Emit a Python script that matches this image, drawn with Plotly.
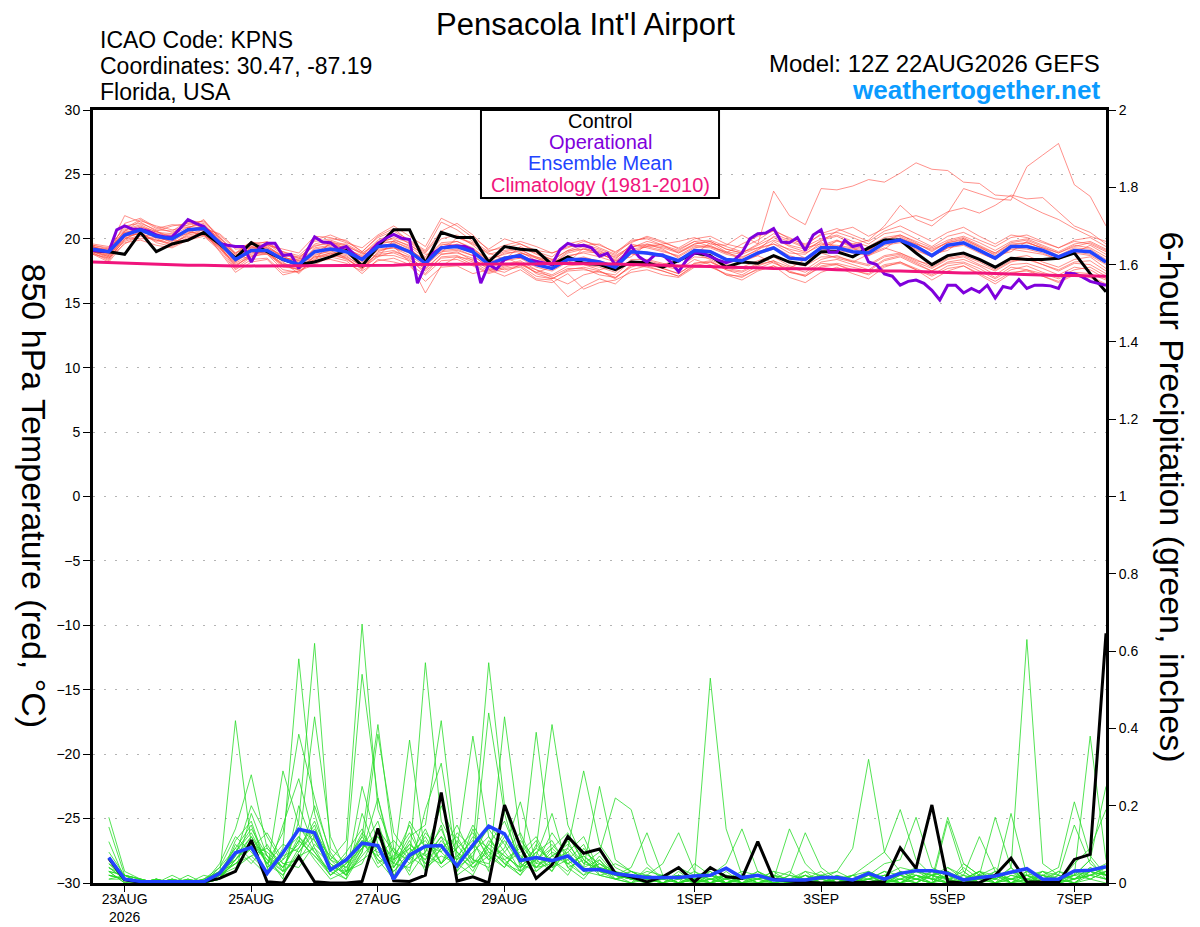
import plotly.graph_objects as go
import pandas as pd

# 12Z 22AUG2026 GEFS run, 6-hourly valid times (operational is 3-hourly)
times = pd.date_range("2026-08-22 12:00", periods=65, freq="6h")
oper_times = pd.date_range("2026-08-22 12:00", periods=129, freq="3h")

tick_dates = ["2026-08-23", "2026-08-25", "2026-08-27", "2026-08-29",
              "2026-09-01", "2026-09-03", "2026-09-05", "2026-09-07"]
tick_labels = ["23AUG<br>2026", "25AUG", "27AUG", "29AUG", "1SEP", "3SEP", "5SEP", "7SEP"]

# 850 hPa temperature, deg C
control_temp = [19.1, 19.0, 18.8, 20.5, 19.0, 19.6, 19.9, 20.5, 19.6, 18.5, 19.7, 19.0, 18.4,
                18.0, 18.2, 18.6, 19.1, 17.9, 19.4, 20.7, 20.7, 18.1, 20.5, 20.1, 20.1, 18.2,
                19.4, 19.2, 19.1, 18.0, 18.6, 18.1, 18.0, 17.6, 18.2, 18.15, 17.8, 18.3, 18.9,
                18.7, 17.8, 18.2, 18.1, 18.7, 18.2, 18.0, 19.0, 19.0, 18.6, 19.3, 19.9, 19.9,
                18.9, 18.0, 18.7, 18.9, 18.4, 17.8, 18.5, 18.4, 18.4, 18.5, 18.9, 17.3, 15.9]
mean_temp = [19.2, 19.0, 20.3, 20.7, 20.2, 20.0, 20.7, 20.8, 19.7, 18.4, 19.1, 19.1, 18.4,
             18.0, 19.0, 19.2, 19.0, 18.4, 19.4, 19.5, 19.0, 18.1, 19.3, 19.4, 19.0, 18.0,
             18.5, 18.7, 18.0, 17.7, 18.4, 18.4, 18.2, 17.8, 19.0, 18.9, 18.7, 18.3, 19.1,
             19.0, 18.4, 18.3, 18.9, 19.3, 18.5, 18.4, 19.3, 19.3, 19.0, 18.9, 19.7, 19.9,
             19.4, 18.7, 19.5, 19.7, 19.1, 18.5, 19.4, 19.4, 19.1, 18.6, 19.1, 19.0, 18.2]
clim_temp = [18.2, 18.15, 18.1, 18.05, 18.0, 18.0, 17.95, 17.95, 17.9, 17.9, 17.9, 17.9, 17.9,
             17.9, 17.9, 17.9, 17.9, 17.95, 17.95, 17.95, 18.0, 18.0, 18.0, 18.0, 18.05, 18.05,
             18.05, 18.05, 18.05, 18.1, 18.1, 18.1, 18.1, 18.05, 18.0, 18.0, 17.95, 17.9, 17.9,
             17.85, 17.8, 17.8, 17.75, 17.7, 17.7, 17.65, 17.65, 17.6, 17.55, 17.55, 17.5, 17.5,
             17.45, 17.45, 17.4, 17.35, 17.35, 17.3, 17.25, 17.25, 17.2, 17.15, 17.15, 17.1, 17.1]
oper_temp = [19.1, 19.05, 19.0, 20.7, 21.0, 20.75, 20.75, 20.6, 20.3, 20.15, 20.15, 20.8, 21.5,
             21.2, 20.95, 20.3, 19.65, 19.5, 19.4, 19.4, 18.2, 19.3, 19.65, 19.65, 18.7, 18.8,
             17.7, 19.0, 20.15, 19.75, 19.7, 19.2, 19.4, 18.8, 18.4, 19.0, 19.65, 20.05, 20.35,
             20.05, 19.95, 16.55, 18.0, 18.9, 19.3, 19.4, 19.45, 19.4, 19.15, 16.55, 18.0, 17.65,
             18.4, 18.6, 18.65, 18.4, 18.25, 18.1, 18.0, 19.15, 19.65, 19.45, 19.5, 19.3, 18.65,
             18.87, 17.97, 18.6, 19.44, 18.6, 18.2, 18.75, 18.75, 18.2, 17.45, 18.35, 18.9, 18.9,
             18.6, 18.35, 18.15, 18.35, 18.9, 20.0, 20.4, 20.45, 20.8, 19.75, 19.7, 20.1, 19.1,
             20.3, 20.7, 18.95, 18.95, 19.9, 19.4, 19.55, 18.2, 18.0, 17.27, 17.1, 16.4, 16.7,
             16.8, 16.55, 16.0, 15.25, 16.4, 16.4, 15.8, 16.15, 15.85, 16.4, 15.4, 16.3, 16.15,
             16.85, 16.15, 16.4, 16.4, 16.35, 16.15, 17.35, 17.3, 17.05, 16.7, 16.55, 16.4]

t_m01 = [19.4, 18.9, 21.2, 21.6, 20.9, 20.5, 21.1, 21.4, 20.2, 18.9, 19.5, 19.8, 18.9,
         18.3, 19.6, 19.9, 19.5, 18.8, 19.9, 20.4, 19.6, 18.6, 20.0, 20.3, 19.5, 18.5,
         19.0, 19.2, 18.5, 18.0, 18.9, 19.2, 18.8, 18.4, 19.6, 19.3, 19.0, 18.7, 19.4,
         19.3, 18.8, 18.5, 19.2, 19.6, 18.9, 18.8, 19.7, 19.4, 19.2, 19.0, 19.6, 19.8,
         19.1, 18.6, 19.3, 19.5, 18.9, 18.4, 19.2, 19.0, 18.8, 18.4, 18.9, 18.7, 18.0]
t_m02 = [19.0, 18.6, 19.8, 20.2, 19.9, 19.6, 20.3, 20.5, 19.4, 17.9, 18.7, 18.8, 17.6,
         17.4, 18.4, 18.8, 18.6, 17.9, 18.8, 18.9, 18.4, 17.3, 18.6, 18.7, 18.2, 17.5,
         17.9, 18.2, 17.3, 16.9, 17.5, 17.6, 17.4, 17.2, 18.3, 18.1, 17.9, 17.6, 18.4,
         18.0, 17.2, 16.8, 17.5, 17.9, 17.0, 16.6, 17.4, 17.8, 17.3, 16.9, 17.8, 18.2,
         17.6, 16.8, 17.5, 17.9, 17.2, 16.5, 17.3, 17.6, 17.1, 16.6, 17.2, 17.0, 16.4]
t_m03 = [19.5, 19.3, 21.8, 21.3, 20.6, 21.0, 21.2, 20.9, 20.3, 19.2, 19.3, 19.5, 19.2,
         18.9, 20.2, 20.1, 19.7, 19.3, 20.3, 21.0, 20.2, 19.4, 21.6, 21.0, 20.1, 19.2,
         20.0, 19.6, 19.1, 18.9, 19.4, 19.5, 19.6, 18.9, 19.9, 20.0, 19.5, 19.1, 19.8,
         19.4, 18.9, 19.6, 20.2, 20.6, 20.1, 19.5, 20.4, 20.8, 20.3, 19.8, 20.6, 21.0,
         20.4, 19.8, 20.5, 20.9, 20.2, 19.6, 20.3, 20.1, 19.7, 19.3, 19.8, 19.6, 19.0]
t_m04 = [18.9, 18.3, 20.0, 20.5, 19.7, 19.4, 20.0, 20.6, 19.0, 17.4, 18.2, 18.4, 17.2,
         17.5, 18.0, 18.6, 18.3, 17.3, 18.4, 18.2, 17.9, 16.7, 17.8, 17.9, 17.3, 17.6,
         17.1, 17.6, 16.8, 16.6, 17.3, 16.1, 16.6, 16.8, 17.4, 17.6, 17.2, 17.0, 17.8,
         17.9, 17.2, 17.1, 17.6, 17.9, 17.5, 17.1, 17.9, 18.1, 17.8, 17.5, 18.3, 18.6,
         18.0, 17.5, 18.1, 18.2, 17.7, 17.0, 17.8, 17.6, 17.3, 16.9, 17.4, 17.3, 16.8]
t_m05 = [19.3, 19.2, 20.6, 21.0, 20.4, 20.3, 20.9, 21.2, 19.9, 18.6, 19.2, 19.4, 18.7,
         18.0, 19.3, 19.5, 19.3, 18.6, 19.6, 19.8, 19.2, 18.3, 19.6, 19.5, 19.2, 18.2,
         18.3, 18.9, 18.6, 18.1, 19.0, 19.4, 19.1, 18.5, 19.3, 19.8, 19.5, 18.9, 19.6,
         19.8, 19.2, 18.9, 19.5, 20.1, 19.4, 19.0, 19.9, 20.2, 19.6, 19.1, 19.9, 20.3,
         19.7, 19.0, 19.8, 20.1, 19.5, 18.9, 19.7, 19.9, 19.4, 18.9, 19.5, 19.3, 18.6]
t_m06 = [19.1, 18.8, 20.1, 20.0, 20.1, 19.8, 20.5, 20.4, 19.3, 18.2, 19.0, 18.9, 18.1,
         17.8, 18.8, 19.0, 18.8, 18.1, 19.1, 19.3, 18.7, 17.9, 19.0, 19.1, 18.7, 17.8,
         18.6, 18.0, 17.4, 17.8, 18.5, 18.0, 17.6, 17.9, 18.9, 18.3, 18.0, 18.4, 18.9,
         18.4, 17.8, 18.2, 18.7, 18.1, 17.7, 18.4, 18.9, 18.5, 18.2, 18.8, 19.3, 18.9,
         18.3, 18.0, 18.6, 18.9, 18.3, 17.8, 18.5, 18.7, 18.2, 17.8, 18.4, 18.6, 17.7]
t_m07 = [18.8, 18.5, 19.6, 20.3, 20.6, 19.9, 19.8, 20.9, 20.1, 18.8, 18.4, 19.6, 19.0,
         18.5, 18.3, 19.8, 19.4, 18.9, 18.6, 19.9, 19.5, 18.8, 18.9, 20.1, 19.6, 18.9,
         18.4, 19.4, 18.8, 18.4, 18.1, 19.3, 18.9, 18.3, 18.6, 19.6, 19.2, 18.5, 18.8,
         19.7, 19.0, 18.4, 18.7, 19.8, 19.1, 18.5, 18.9, 19.9, 19.3, 18.7, 19.2, 20.1,
         19.5, 18.8, 19.1, 20.0, 19.4, 18.7, 19.0, 19.8, 19.2, 18.6, 18.9, 19.5, 18.8]
t_m08 = [19.2, 18.7, 20.4, 20.9, 20.0, 19.6, 20.4, 21.0, 19.5, 17.8, 18.9, 19.0, 17.9,
         17.6, 18.7, 19.1, 18.5, 17.6, 19.0, 19.4, 18.2, 15.8, 17.9, 18.6, 18.4, 17.7,
         17.4, 18.0, 17.6, 17.0, 16.5, 17.2, 17.5, 17.0, 17.8, 18.2, 17.7, 17.3, 18.1,
         18.3, 17.6, 17.4, 18.0, 18.3, 17.4, 17.2, 18.1, 18.0, 17.5, 17.3, 18.0, 18.2,
         17.7, 17.2, 17.9, 18.1, 17.5, 16.9, 17.6, 17.9, 17.4, 17.0, 17.6, 17.8, 17.1]
t_m09 = [19.6, 19.4, 20.8, 21.5, 20.8, 21.1, 21.0, 20.8, 20.4, 19.3, 19.6, 19.2, 18.5,
         18.4, 19.9, 20.3, 19.8, 19.0, 20.1, 20.6, 19.9, 19.1, 21.3, 20.7, 19.8, 19.0,
         19.5, 19.8, 19.4, 18.9, 19.3, 19.8, 19.5, 19.0, 19.7, 20.2, 19.8, 19.2, 19.8,
         19.9, 19.4, 19.0, 19.3, 19.6, 19.2, 18.9, 19.5, 19.9, 19.4, 19.2, 19.8, 20.0,
         19.6, 19.1, 19.7, 19.9, 19.3, 18.8, 19.5, 19.7, 19.3, 18.9, 19.4, 19.7, 19.1]
t_m10 = [18.9, 18.4, 20.2, 20.4, 19.8, 20.1, 20.6, 20.3, 19.4, 18.0, 18.6, 19.2, 18.2,
         17.3, 18.5, 18.9, 18.4, 17.7, 18.6, 19.0, 18.6, 17.6, 18.8, 19.0, 18.3, 17.9,
         17.6, 17.8, 16.9, 16.8, 15.5, 16.3, 16.9, 16.5, 17.6, 17.9, 17.5, 17.1, 17.9,
         18.2, 17.7, 17.5, 18.1, 18.6, 17.9, 17.6, 18.4, 18.7, 18.2, 17.9, 18.6, 18.8,
         18.2, 17.7, 18.4, 18.6, 18.0, 17.5, 18.2, 18.5, 18.0, 17.6, 18.2, 18.3, 17.5]
t_m11 = [19.3, 19.0, 20.5, 20.8, 20.3, 20.2, 20.6, 21.1, 19.8, 18.5, 19.3, 19.3, 18.6,
         18.2, 19.2, 19.4, 19.1, 18.5, 19.5, 19.6, 19.1, 18.4, 19.4, 19.3, 18.9, 18.1,
         18.4, 18.9, 18.5, 18.1, 18.7, 18.9, 18.6, 18.2, 19.0, 19.4, 19.6, 19.8, 20.1,
         19.6, 19.5, 20.3, 19.6, 23.7, 21.8, 21.1, 23.9, 23.8, 24.1, 24.6, 24.4, 25.1,
         25.9, 25.4, 25.3, 24.4, 24.3, 23.4, 23.3, 22.6, 22.0, 21.5, 20.8, 20.2, 19.8]
t_m12 = [19.0, 18.7, 20.0, 20.6, 20.1, 19.9, 20.8, 20.7, 19.6, 18.3, 19.0, 18.8, 18.0,
         17.9, 18.9, 19.3, 19.1, 18.2, 19.2, 19.3, 18.9, 18.0, 19.1, 19.2, 18.7, 17.8,
         18.3, 18.5, 17.8, 17.5, 18.2, 18.5, 18.3, 17.9, 18.8, 18.9, 18.6, 18.2, 19.0,
         18.9, 18.4, 18.3, 18.8, 19.2, 18.6, 18.5, 19.4, 19.8, 19.6, 19.9, 21.0, 22.6,
         21.5, 21.0, 22.0, 23.9, 23.5, 23.1, 23.0, 25.6, 26.5, 27.4, 24.2, 23.3, 21.0]
t_m13 = [19.4, 19.1, 20.7, 21.1, 20.5, 20.4, 21.3, 21.0, 19.9, 18.7, 19.4, 19.6, 18.8,
         18.6, 19.4, 19.8, 19.2, 18.7, 19.8, 20.0, 19.4, 18.5, 19.7, 19.8, 19.2, 18.4,
         18.8, 19.1, 18.6, 18.3, 19.1, 19.2, 19.0, 18.6, 19.4, 19.5, 19.3, 18.9, 19.5,
         19.4, 19.0, 18.8, 19.3, 19.9, 19.5, 19.2, 19.8, 20.6, 20.9, 20.2, 20.8, 21.5,
         21.8, 21.4, 22.1, 22.4, 22.0, 22.6, 23.4, 23.1, 23.2, 22.1, 21.0, 20.5, 19.6]
t_m14 = [19.2, 18.9, 20.3, 20.9, 20.6, 20.1, 20.4, 20.7, 19.6, 18.2, 19.4, 19.1, 18.3,
         18.1, 19.0, 19.1, 19.2, 18.3, 19.3, 19.7, 19.0, 18.2, 19.2, 19.6, 19.1, 18.2,
         18.6, 18.5, 18.1, 17.6, 18.3, 18.6, 18.2, 17.8, 19.1, 18.8, 18.6, 18.2, 19.2,
         19.1, 18.5, 18.2, 19.0, 19.4, 18.7, 18.3, 19.2, 19.1, 18.9, 18.7, 19.5, 19.7,
         19.2, 18.6, 19.3, 19.6, 19.0, 18.4, 19.3, 19.2, 18.9, 18.4, 19.0, 18.8, 18.1]
t_m15 = [18.8, 18.2, 19.7, 19.9, 19.5, 19.3, 19.9, 20.2, 19.1, 17.6, 18.4, 18.5, 17.4,
         17.5, 18.3, 18.4, 18.1, 17.5, 18.3, 18.5, 18.0, 17.2, 18.3, 18.4, 17.9, 17.3,
         17.7, 17.9, 17.1, 16.9, 17.6, 17.8, 17.5, 16.9, 18.0, 17.8, 17.5, 17.1, 18.0,
         17.8, 17.3, 17.0, 17.7, 18.2, 17.4, 17.1, 17.8, 18.0, 17.6, 17.2, 17.9, 18.1,
         17.6, 17.1, 17.7, 17.9, 17.3, 16.7, 17.4, 17.5, 17.1, 16.7, 17.3, 17.1, 16.5]
t_m16 = [19.5, 19.2, 21.0, 21.2, 20.7, 20.6, 21.4, 21.3, 20.1, 18.8, 19.7, 19.7, 19.0,
         18.7, 19.8, 20.0, 19.9, 19.0, 20.2, 20.8, 19.8, 19.0, 20.6, 21.2, 20.3, 19.1,
         19.3, 19.6, 19.0, 18.6, 19.6, 19.9, 19.3, 18.8, 19.8, 20.1, 19.7, 19.3, 20.0,
         20.2, 19.6, 19.3, 19.9, 20.7, 20.0, 19.6, 20.3, 20.5, 20.1, 19.6, 20.4, 20.6,
         20.0, 19.4, 20.2, 20.5, 19.9, 19.4, 20.1, 20.3, 19.8, 19.3, 19.9, 20.1, 19.4]
t_m17 = [19.0, 18.5, 19.9, 20.3, 20.2, 19.7, 20.2, 20.3, 19.2, 18.1, 18.8, 19.0, 18.0,
         17.6, 18.6, 18.9, 18.7, 17.8, 18.9, 19.1, 18.5, 17.7, 18.8, 18.9, 18.5, 17.6,
         18.0, 18.3, 17.6, 17.2, 17.9, 18.0, 17.8, 17.4, 18.4, 18.4, 18.1, 17.8, 18.6,
         18.5, 18.0, 17.8, 18.3, 18.7, 18.1, 17.9, 18.6, 18.6, 18.3, 18.0, 18.7, 18.9,
         18.4, 17.8, 18.5, 18.7, 18.2, 17.6, 18.3, 18.4, 18.0, 17.5, 18.1, 18.0, 17.3]
t_m18 = [19.3, 18.8, 20.5, 20.6, 20.3, 20.0, 20.8, 21.5, 20.0, 18.4, 19.1, 19.5, 18.5,
         18.3, 18.9, 19.6, 19.3, 18.4, 19.7, 19.8, 19.3, 18.1, 19.5, 19.8, 19.3, 18.3,
         18.9, 19.0, 18.3, 17.9, 18.6, 19.0, 18.9, 18.3, 19.2, 19.4, 19.1, 18.6, 19.3,
         19.5, 18.9, 18.6, 19.1, 20.2, 19.8, 19.3, 19.6, 19.5, 19.3, 19.1, 19.9, 20.2,
         19.6, 19.2, 19.7, 20.0, 19.4, 18.9, 19.6, 19.7, 19.3, 18.7, 19.3, 19.2, 18.4]
t_m19 = [19.1, 18.6, 20.2, 20.4, 19.9, 19.5, 20.1, 20.3, 19.3, 17.7, 18.6, 18.9, 17.8,
         17.7, 18.6, 18.7, 18.5, 17.7, 18.7, 18.7, 18.3, 17.5, 18.5, 18.6, 18.0, 17.4,
         17.8, 18.1, 17.4, 17.1, 17.7, 17.7, 17.2, 17.0, 17.9, 18.0, 17.7, 17.3, 18.1,
         18.2, 17.6, 17.2, 17.9, 18.3, 17.8, 17.4, 18.2, 18.4, 18.0, 17.6, 18.4, 18.7,
         18.1, 17.5, 18.2, 18.4, 17.9, 17.2, 18.0, 18.1, 17.7, 17.2, 17.8, 17.6, 16.9]
t_m20 = [19.4, 19.0, 20.6, 21.4, 21.0, 20.7, 20.9, 20.6, 19.8, 18.9, 19.8, 19.3, 18.7,
         18.5, 19.5, 19.6, 19.6, 18.9, 19.6, 20.1, 19.7, 18.9, 20.4, 20.1, 19.7, 18.8,
         19.1, 19.3, 18.9, 18.4, 19.1, 19.6, 19.2, 18.7, 19.4, 19.6, 19.4, 19.0, 19.6,
         19.8, 19.2, 18.9, 19.6, 20.4, 19.9, 19.4, 20.0, 20.3, 19.8, 19.4, 20.1, 20.3,
         19.8, 19.3, 19.9, 20.2, 19.7, 19.1, 19.8, 20.0, 19.5, 19.0, 19.6, 19.8, 19.2]

# 6-hour precipitation, inches (starts at the first 6-h step)
control_precip = [0.064, 0.008, 0.002, 0, 0, 0, 0.003, 0.012, 0.03, 0.111, 0.003, 0, 0.068, 0.003, 0, 0,
                  0.004, 0.141, 0.006, 0.004, 0.02, 0.234, 0.005, 0.016, 0, 0.202, 0.094, 0.012, 0.047, 0.12, 0.077, 0.088,
                  0.025, 0.016, 0.003, 0.016, 0.04, 0.003, 0.04, 0.016, 0.012, 0.107, 0.01, 0.005, 0.002, 0, 0, 0.002,
                  0.001, 0.003, 0.091, 0.038, 0.202, 0.003, 0, 0.001, 0.02, 0.064, 0.003, 0.002, 0.002, 0.061, 0.074, 0.646]
mean_precip = [0.066, 0.01, 0.004, 0.003, 0.003, 0.003, 0.003, 0.025, 0.078, 0.092, 0.025, 0.078, 0.139, 0.13, 0.034, 0.06,
               0.103, 0.097, 0.01, 0.072, 0.095, 0.097, 0.044, 0.098, 0.147, 0.127, 0.058, 0.066, 0.058, 0.07, 0.034, 0.035,
               0.024, 0.02, 0.014, 0.014, 0.014, 0.018, 0.02, 0.038, 0.014, 0.02, 0.008, 0.008, 0.008, 0.014, 0.014, 0.008,
               0.025, 0.01, 0.025, 0.032, 0.032, 0.025, 0.008, 0.014, 0.018, 0.028, 0.037, 0.01, 0.01, 0.031, 0.033, 0.042]

p_m01 = [0.17, 0.03, 0.01, 0, 0, 0, 0, 0.01, 0.06, 0.12, 0.05, 0.02, 0.09, 0.15, 0.03, 0.01,
         0.08, 0.22, 0.04, 0.10, 0.06, 0.15, 0.02, 0.05, 0.44, 0.18, 0.04, 0.08, 0.03, 0.12, 0.06, 0.02,
         0.03, 0.01, 0, 0.02, 0, 0.01, 0, 0.03, 0, 0, 0.01, 0, 0, 0.02, 0.01, 0,
         0, 0.01, 0.03, 0.02, 0, 0.16, 0.03, 0, 0.01, 0, 0.02, 0, 0, 0.01, 0.04, 0.02]
p_m02 = [0.145, 0.02, 0, 0.01, 0, 0, 0, 0.02, 0.03, 0.18, 0.07, 0.01, 0.20, 0.09, 0.02, 0.05,
         0.12, 0.06, 0.01, 0.16, 0.09, 0.04, 0.07, 0.11, 0.03, 0.43, 0.12, 0.03, 0.06, 0.02, 0.09, 0.04,
         0.01, 0.02, 0.01, 0, 0.03, 0, 0.01, 0, 0.02, 0, 0, 0.01, 0.03, 0, 0, 0.01,
         0.02, 0, 0, 0.01, 0, 0.04, 0.02, 0.12, 0.03, 0, 0, 0.01, 0, 0.03, 0.01, 0]
p_m03 = [0.107, 0.01, 0, 0, 0.02, 0, 0, 0.04, 0.09, 0.05, 0.10, 0.03, 0.06, 0.20, 0.08, 0.02,
         0.25, 0.10, 0.05, 0.37, 0.07, 0.12, 0.03, 0.14, 0.06, 0.09, 0.21, 0.05, 0.13, 0.07, 0.03, 0.05,
         0.02, 0, 0.04, 0.01, 0, 0.02, 0.03, 0, 0.01, 0.02, 0, 0, 0.01, 0.03, 0, 0,
         0.01, 0.03, 0, 0.02, 0.01, 0, 0.05, 0.02, 0.17, 0.04, 0, 0.02, 0.01, 0, 0.03, 0.05]
p_m04 = [0.08, 0.02, 0.01, 0, 0, 0.01, 0, 0.01, 0.11, 0.16, 0.04, 0.08, 0.12, 0.06, 0.01, 0.03,
         0.05, 0.14, 0.08, 0.03, 0.19, 0.31, 0.05, 0.02, 0.10, 0.16, 0.06, 0.11, 0.04, 0.08, 0.12, 0.03,
         0.05, 0.03, 0.01, 0.02, 0, 0.05, 0.02, 0, 0.01, 0.01, 0, 0, 0.02, 0, 0.01, 0,
         0, 0, 0.02, 0.04, 0.01, 0.02, 0, 0.03, 0.01, 0.18, 0.02, 0, 0.01, 0.02, 0.06, 0.01]
p_m05 = [0.064, 0, 0, 0.01, 0, 0, 0.01, 0.03, 0.05, 0.09, 0.02, 0.15, 0.27, 0.11, 0.04, 0.01,
         0.18, 0.07, 0.03, 0.08, 0.11, 0.05, 0.09, 0.38, 0.12, 0.05, 0.02, 0.07, 0.18, 0.04, 0.01, 0.06,
         0.01, 0, 0.02, 0, 0.01, 0, 0.02, 0.01, 0, 0.03, 0, 0.01, 0, 0, 0.02, 0,
         0.01, 0, 0.01, 0, 0.02, 0.03, 0, 0.01, 0, 0.04, 0.63, 0.05, 0.02, 0, 0.01, 0.03]
p_m06 = [0.04, 0.01, 0, 0, 0, 0.02, 0, 0.02, 0.42, 0.10, 0.06, 0.02, 0.08, 0.13, 0.05, 0.02,
         0.09, 0.16, 0.02, 0.05, 0.13, 0.08, 0.04, 0.07, 0.15, 0.10, 0.03, 0.39, 0.07, 0.05, 0.02, 0.04,
         0.02, 0.01, 0, 0.01, 0.02, 0, 0, 0.02, 0, 0.01, 0.03, 0, 0, 0.01, 0, 0.02,
         0.03, 0.01, 0, 0.02, 0, 0.01, 0.02, 0, 0.03, 0.01, 0, 0.02, 0.04, 0.21, 0.07, 0.02]
p_m07 = [0.03, 0.02, 0.01, 0, 0.01, 0, 0, 0.05, 0.14, 0.28, 0.09, 0.04, 0.11, 0.07, 0.03, 0.08,
         0.14, 0.05, 0.09, 0.02, 0.08, 0.20, 0.10, 0.04, 0.07, 0.13, 0.05, 0.09, 0.41, 0.15, 0.06, 0.03,
         0.01, 0, 0.01, 0.02, 0, 0.01, 0, 0.01, 0.02, 0, 0, 0.02, 0.01, 0, 0, 0.01,
         0, 0.02, 0.01, 0, 0.03, 0.01, 0, 0.02, 0.04, 0, 0.01, 0, 0.02, 0.15, 0.05, 0.02]
p_m08 = [0.02, 0.01, 0, 0, 0, 0, 0.02, 0.01, 0.07, 0.20, 0.12, 0.05, 0.04, 0.10, 0.06, 0.02,
         0.07, 0.12, 0.04, 0.11, 0.03, 0.09, 0.06, 0.15, 0.08, 0.04, 0.11, 0.06, 0.03, 0.09, 0.29, 0.10,
         0.04, 0.02, 0.01, 0, 0.02, 0, 0.01, 0, 0, 0.02, 0.01, 0, 0.02, 0, 0.01, 0,
         0.02, 0, 0.03, 0.01, 0, 0.02, 0.01, 0, 0.02, 0.03, 0, 0.01, 0, 0.02, 0.38, 0.06]
p_m09 = [0.05, 0.02, 0, 0.01, 0, 0, 0, 0.02, 0.04, 0.07, 0.03, 0.29, 0.15, 0.08, 0.02, 0.06,
         0.11, 0.04, 0.07, 0.13, 0.05, 0.10, 0.03, 0.08, 0.12, 0.06, 0.02, 0.10, 0.05, 0.07, 0.04, 0.25,
         0.06, 0.03, 0.01, 0.02, 0, 0.01, 0.03, 0, 0.01, 0, 0.02, 0.01, 0, 0, 0.01, 0.02,
         0, 0.01, 0, 0.03, 0.02, 0, 0.01, 0.03, 0, 0.02, 0.01, 0.03, 0, 0.05, 0.09, 0.19]
p_m10 = [0.02, 0.01, 0, 0, 0.01, 0, 0, 0.01, 0.10, 0.06, 0.02, 0.09, 0.58, 0.18, 0.04, 0.03,
         0.06, 0.09, 0.03, 0.07, 0.14, 0.05, 0.11, 0.06, 0.04, 0.08, 0.13, 0.04, 0.07, 0.10, 0.05, 0.08,
         0.22, 0.19, 0.05, 0.01, 0.02, 0, 0.01, 0.02, 0, 0, 0.01, 0.03, 0, 0.01, 0, 0,
         0.01, 0, 0.02, 0.01, 0, 0.03, 0, 0.01, 0.02, 0, 0.03, 0, 0.01, 0.02, 0.06, 0.25]
p_m11 = [0.03, 0, 0.01, 0, 0, 0, 0.01, 0.03, 0.06, 0.11, 0.05, 0.13, 0.385, 0.22, 0.07, 0.04,
         0.10, 0.08, 0.06, 0.15, 0.04, 0.07, 0.05, 0.12, 0.09, 0.05, 0.03, 0.08, 0.11, 0.04, 0.06, 0.03,
         0.02, 0.04, 0.13, 0.02, 0.01, 0.03, 0, 0.01, 0.02, 0, 0.01, 0, 0.03, 0.02, 0, 0.01,
         0.02, 0, 0.01, 0.02, 0.01, 0, 0.04, 0.01, 0, 0.02, 0.01, 0, 0.03, 0.01, 0.02, 0.04]
p_m12 = [0.01, 0.01, 0, 0, 0, 0.01, 0, 0.02, 0.08, 0.14, 0.07, 0.03, 0.16, 0.62, 0.09, 0.05,
         0.13, 0.06, 0.04, 0.09, 0.06, 0.12, 0.08, 0.03, 0.11, 0.07, 0.04, 0.06, 0.09, 0.13, 0.05, 0.04,
         0.03, 0.01, 0.02, 0.05, 0.13, 0.03, 0.01, 0, 0.01, 0.02, 0, 0.01, 0, 0.02, 0.01, 0,
         0.01, 0.02, 0, 0.01, 0.03, 0.01, 0, 0.02, 0.01, 0.04, 0, 0.02, 0.01, 0, 0.03, 0.01]
p_m13 = [0.04, 0.02, 0.01, 0, 0, 0, 0, 0.02, 0.05, 0.09, 0.13, 0.06, 0.10, 0.43, 0.12, 0.03,
         0.09, 0.13, 0.05, 0.04, 0.10, 0.08, 0.15, 0.06, 0.05, 0.12, 0.07, 0.04, 0.08, 0.06, 0.10, 0.02,
         0.01, 0.03, 0.02, 0.01, 0.04, 0.02, 0.53, 0.14, 0.02, 0.01, 0, 0.02, 0.01, 0, 0.02, 0.01,
         0, 0.01, 0.02, 0.01, 0, 0.02, 0.01, 0.03, 0, 0.01, 0.02, 0, 0.01, 0.03, 0.02, 0.01]
p_m14 = [0.02, 0.01, 0, 0.01, 0, 0, 0, 0.03, 0.09, 0.15, 0.04, 0.07, 0.09, 0.16, 0.06, 0.11,
         0.67, 0.19, 0.08, 0.06, 0.12, 0.05, 0.09, 0.13, 0.07, 0.04, 0.10, 0.05, 0.06, 0.08, 0.03, 0.05,
         0.02, 0.01, 0.03, 0.02, 0, 0.01, 0.02, 0.05, 0.14, 0.03, 0.01, 0, 0.01, 0.02, 0, 0.01,
         0.03, 0.01, 0, 0.02, 0.01, 0, 0.02, 0.01, 0.03, 0, 0.01, 0.02, 0, 0.01, 0.04, 0.02]
p_m15 = [0.03, 0, 0, 0, 0.01, 0, 0, 0.01, 0.06, 0.10, 0.08, 0.04, 0.12, 0.08, 0.03, 0.07,
         0.54, 0.22, 0.06, 0.09, 0.05, 0.11, 0.06, 0.09, 0.14, 0.08, 0.03, 0.06, 0.10, 0.05, 0.07, 0.04,
         0.03, 0.02, 0.01, 0, 0.02, 0.01, 0, 0.02, 0.01, 0.03, 0.01, 0.14, 0.05, 0.01, 0, 0.02,
         0.01, 0.03, 0.02, 0, 0.02, 0.01, 0.03, 0, 0.02, 0.01, 0, 0.03, 0.02, 0.01, 0.02, 0.03]
p_m16 = [0.05, 0.01, 0, 0, 0, 0, 0.01, 0.04, 0.12, 0.08, 0.03, 0.06, 0.14, 0.11, 0.04, 0.06,
         0.12, 0.41, 0.09, 0.05, 0.08, 0.14, 0.04, 0.10, 0.06, 0.11, 0.05, 0.03, 0.07, 0.09, 0.04, 0.06,
         0.02, 0.01, 0.02, 0.01, 0, 0.02, 0.01, 0, 0.02, 0.01, 0.03, 0.02, 0.13, 0.04, 0.01, 0,
         0.02, 0, 0.01, 0.03, 0.02, 0.01, 0, 0.02, 0.01, 0.03, 0.01, 0, 0.02, 0.01, 0.03, 0.02]
p_m17 = [0.01, 0.02, 0.01, 0, 0, 0, 0, 0.02, 0.07, 0.12, 0.06, 0.03, 0.07, 0.09, 0.05, 0.02,
         0.08, 0.385, 0.13, 0.07, 0.04, 0.09, 0.12, 0.05, 0.08, 0.06, 0.09, 0.04, 0.05, 0.11, 0.03, 0.02,
         0.01, 0.02, 0, 0.01, 0.02, 0, 0.02, 0.01, 0, 0.01, 0.02, 0, 0.01, 0.02, 0.03, 0.09,
         0.32, 0.08, 0.03, 0.01, 0.02, 0.04, 0.01, 0, 0.02, 0.01, 0.03, 0.02, 0, 0.01, 0.02, 0.01]
p_m18 = [0.04, 0.01, 0, 0, 0.01, 0, 0, 0.02, 0.05, 0.07, 0.09, 0.05, 0.06, 0.12, 0.07, 0.03,
         0.10, 0.07, 0.11, 0.06, 0.57, 0.16, 0.08, 0.05, 0.10, 0.07, 0.04, 0.09, 0.06, 0.03, 0.08, 0.05,
         0.03, 0.01, 0.02, 0, 0.01, 0.02, 0, 0.01, 0.03, 0.02, 0, 0.01, 0.02, 0, 0.01, 0.02,
         0.05, 0.08, 0.19, 0.06, 0.02, 0.03, 0.01, 0.02, 0, 0.01, 0.02, 0.03, 0.01, 0, 0.02, 0.04]
p_m19 = [0.02, 0.01, 0, 0.01, 0, 0, 0, 0.01, 0.08, 0.13, 0.05, 0.10, 0.08, 0.14, 0.06, 0.04,
         0.11, 0.09, 0.05, 0.12, 0.15, 0.42, 0.07, 0.04, 0.09, 0.05, 0.08, 0.12, 0.04, 0.06, 0.02, 0.07,
         0.02, 0.03, 0.01, 0.02, 0, 0.01, 0.02, 0, 0.01, 0.02, 0.01, 0, 0.02, 0.01, 0.03, 0.01,
         0.02, 0.05, 0.06, 0.17, 0.04, 0.02, 0.01, 0.03, 0.02, 0, 0.02, 0.01, 0.03, 0.02, 0.01, 0.03]
p_m20 = [0.03, 0.02, 0, 0, 0, 0.01, 0, 0.03, 0.06, 0.10, 0.07, 0.04, 0.11, 0.07, 0.02, 0.05,
         0.09, 0.12, 0.06, 0.10, 0.07, 0.05, 0.13, 0.09, 0.57, 0.20, 0.06, 0.04, 0.09, 0.05, 0.07, 0.03,
         0.02, 0.01, 0.02, 0.01, 0.02, 0, 0.01, 0.02, 0, 0.01, 0.02, 0.01, 0, 0.02, 0, 0.01,
         0.01, 0.02, 0.04, 0.03, 0.01, 0.17, 0.05, 0.02, 0.01, 0.03, 0.02, 0, 0.01, 0.02, 0.03, 0.02]

temp_members = [t_m01, t_m02, t_m03, t_m04, t_m05, t_m06, t_m07, t_m08, t_m09, t_m10,
                t_m11, t_m12, t_m13, t_m14, t_m15, t_m16, t_m17, t_m18, t_m19, t_m20]
precip_members = [p_m01, p_m02, p_m03, p_m04, p_m05, p_m06, p_m07, p_m08, p_m09, p_m10,
                  p_m11, p_m12, p_m13, p_m14, p_m15, p_m16, p_m17, p_m18, p_m19, p_m20]

FONT = "Liberation Sans, Arial, Helvetica, sans-serif"
RED = "rgba(255,70,60,0.75)"
GREEN = "rgb(40,220,40)"
PURPLE = "#7f00dc"
BLUE = "#2244ff"
PINK = "#f0147c"

fig = go.Figure()

for m in temp_members:
    fig.add_trace(go.Scatter(x=times, y=m, mode="lines", line=dict(color=RED, width=0.8)))
for m in precip_members:
    fig.add_trace(go.Scatter(x=times[1:], y=m, mode="lines", yaxis="y2",
                             line=dict(color=GREEN, width=0.8)))

fig.add_trace(go.Scatter(x=times[1:], y=control_precip, mode="lines", yaxis="y2",
                         line=dict(color="black", width=3)))
fig.add_trace(go.Scatter(x=times[1:], y=mean_precip, mode="lines", yaxis="y2",
                         line=dict(color=BLUE, width=3.5)))
fig.add_trace(go.Scatter(x=times, y=control_temp, mode="lines", line=dict(color="black", width=3)))
fig.add_trace(go.Scatter(x=oper_times, y=oper_temp, mode="lines", line=dict(color=PURPLE, width=3)))
fig.add_trace(go.Scatter(x=times, y=mean_temp, mode="lines", line=dict(color=BLUE, width=3.5)))
fig.add_trace(go.Scatter(x=times, y=clim_temp, mode="lines", line=dict(color=PINK, width=3)))

# the page body has an 8px margin, so the figure is 8px smaller and margins shifted
fig.update_layout(
    width=1192, height=919,
    margin=dict(l=85, r=94, t=102, b=44, autoexpand=False),
    paper_bgcolor="white", plot_bgcolor="white",
    showlegend=False,
    font=dict(family=FONT, color="black"),
    xaxis=dict(range=["2026-08-22 12:00", "2026-09-07 12:00"], automargin=False,
               tickvals=tick_dates, ticktext=tick_labels, ticklabelstandoff=-5,
               ticks="outside", ticklen=6, tickcolor="black", tickfont=dict(size=14),
               showgrid=False, showline=True, linewidth=3, linecolor="black", mirror=True),
    yaxis=dict(range=[-30, 30], dtick=5, ticks="outside", ticklen=7, tickcolor="black",
               tickfont=dict(size=14), zeroline=False, automargin=False,
               showgrid=True, gridcolor="#b4b4b4", griddash="2px,9px", gridwidth=1,
               showline=True, linewidth=3, linecolor="black", mirror=True),
    yaxis2=dict(range=[0, 2], dtick=0.2, overlaying="y", side="right", automargin=False,
                ticks="outside", ticklen=7, tickcolor="black", tickfont=dict(size=14),
                showgrid=False, zeroline=False,
                showline=True, linewidth=3, linecolor="black"),
)

# header texts
fig.add_annotation(text="Pensacola Int'l Airport", x=0.4857, y=1.110, xref="paper", yref="paper",
                   yanchor="middle", showarrow=False, font=dict(size=31))
for txt, yy in [("ICAO Code: KPNS", 1.0906), ("Coordinates: 30.47, -87.19", 1.0569),
                ("Florida, USA", 1.0233)]:
    fig.add_annotation(text=txt, x=0.005, y=yy, xref="paper", yref="paper", xanchor="left",
                       yanchor="middle", showarrow=False, font=dict(size=23))
fig.add_annotation(text="Model: 12Z 22AUG2026 GEFS", x=0.996, y=1.0608, xref="paper", yref="paper",
                   xanchor="right", yanchor="middle", showarrow=False, font=dict(size=24))
fig.add_annotation(text="<b>weathertogether.net</b>", x=0.996, y=1.0259, xref="paper", yref="paper",
                   xanchor="right", yanchor="middle", showarrow=False,
                   font=dict(size=26, color="#0a9bff"))

# axis titles, reading top to bottom
fig.add_annotation(text="850 hPa Temperature (red, °C)", x=-0.0573, y=0.5, xref="paper", yref="paper",
                   xanchor="center", yanchor="middle", textangle=90, showarrow=False,
                   font=dict(size=34))
fig.add_annotation(text="6-hour Precipitation (green, inches)", x=1.0652, y=0.5, xref="paper",
                   yref="paper", xanchor="center", yanchor="middle", textangle=90,
                   showarrow=False, font=dict(size=34))

# legend box
fig.add_shape(type="rect", xref="paper", yref="paper", x0=0.383, x1=0.618, y0=0.886, y1=1.0,
              line=dict(color="black", width=2), fillcolor="white", layer="above")
for txt, col, yy in [("Control", "black", 0.9858), ("Operational", PURPLE, 0.9586),
                     ("Ensemble Mean", BLUE, 0.9314), ("Climatology (1981-2010)", PINK, 0.903)]:
    fig.add_annotation(text=txt, x=0.5005, y=yy, xref="paper", yref="paper", yanchor="middle",
                       showarrow=False, font=dict(size=20, color=col))

fig.write_html("out.html")
